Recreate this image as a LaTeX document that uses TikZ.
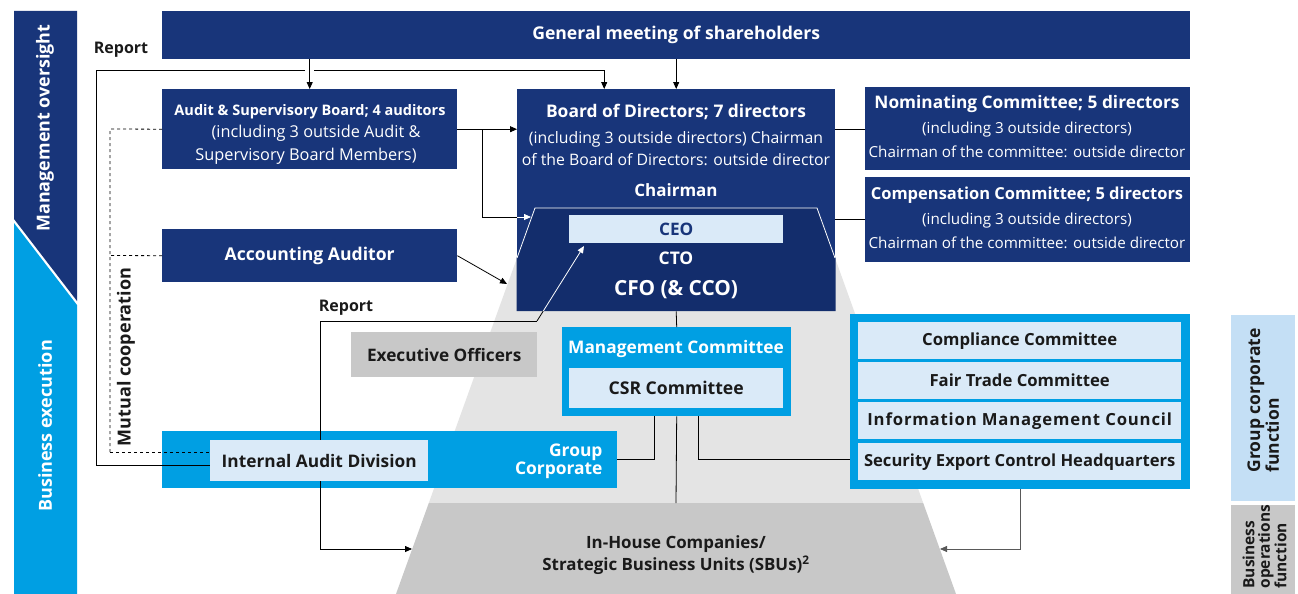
\documentclass[tikz,border=0pt]{standalone}
\usepackage{fontspec}
\setmainfont{Open Sans}
\usetikzlibrary{arrows.meta}
\definecolor{navy}{HTML}{18357A}
\definecolor{navyd}{HTML}{132D6C}
\definecolor{bblue}{HTML}{009FE3}
\definecolor{lblue}{HTML}{DAEAF8}
\definecolor{gblue}{HTML}{C4DFF5}
\definecolor{grayA}{HTML}{C8C8C8}
\definecolor{grayB}{HTML}{E4E4E4}
\definecolor{txtd}{HTML}{1A1A1A}
\newcommand{\bfsz}[1]{\fontsize{#1}{1.2\dimexpr #1pt\relax}\selectfont\bfseries}
\tikzset{
  navybox/.style={fill=navy, text=white, inner sep=0pt, align=center, anchor=north west},
  bluebox/.style={fill=bblue, text=white, inner sep=0pt, align=center, anchor=north west},
  lightbox/.style={fill=lblue, text=txtd, inner sep=0pt, align=center, anchor=north west, font=\bfsz{17.2}},
  graybox/.style={fill=grayA, text=txtd, inner sep=0pt, align=center, anchor=north west, font=\bfsz{17.2}},
  conn/.style={draw=black, line width=0.8pt},
  arr/.style={conn, -{Triangle[length=7pt,width=6pt]}},
  warr/.style={draw=white, line width=0.8pt, -{Triangle[length=7pt,width=6pt]}},
  dashln/.style={draw=black, line width=0.8pt, dash pattern=on 3pt off 3pt},
  lbl/.style={font=\bfsz{16}, text=txtd, inner sep=0pt},
}
\begin{document}
\begin{tikzpicture}[x=1pt,y=-1pt]
\useasboundingbox (0,0) rectangle (1298,594);
\fill[white] (0,0) rectangle (1298,594);

% left band
\fill[navy] (14,11) -- (77,11) -- (77,301) -- (14,219) -- cycle;
\fill[bblue] (14,223) -- (77,305) -- (77,594) -- (14,594) -- cycle;
\node[rotate=90, text=white, font=\bfsz{17.9}] (lbmo) at (45,128) {Management oversight};
\node[rotate=90, text=white, font=\bfsz{18}] (lbbe) at (45,426) {Business execution};

% gray trapezoid
\fill[grayB] (535,208) -- (817,208) -- (923.2,503) -- (428.8,503) -- cycle;
\fill[grayA] (428.8,503) -- (923.2,503) -- (956,594) -- (396,594) -- cycle;
\node[text=txtd, font=\fontsize{16.9}{22}\selectfont\bfseries, align=center] (ih) at (676,555) {In-House Companies/\\Strategic Business Units (SBUs)\textsuperscript{2}};
\coordinate (ihtop) at (676,503);
\coordinate (ihl) at (412,549);
\coordinate (ihr) at (940,549);

% general meeting
\node[navybox, minimum width=1028, minimum height=48, font=\bfsz{17.6}] (gm) at (162,11) {General meeting of shareholders};

% audit board / accounting auditor
\node[navybox, minimum width=295, minimum height=80] (asb) at (162,89) {};
\node[text=white, align=center, font=\fontsize{16.3}{22.5}\selectfont] (asbt) at (310,134)
  {{\bfseries\fontsize{14.5}{22.5}\selectfont Audit \& Supervisory Board; 4 auditors}\\
   \hspace*{12pt}(including 3 outside Audit \&\\
   Supervisory Board Members)\hspace*{8pt}};
\node[navybox, minimum width=295, minimum height=53, font=\bfsz{17.6}] (aa) at (162,229) {Accounting Auditor};

% board of directors
\node[navybox, minimum width=318, minimum height=222] (bod) at (517,89) {};
\fill[navyd] (535,208) -- (817,208) -- (835.5,258) -- (835.5,311) -- (516.5,311) -- (516.5,258) -- cycle;
\draw[white, line width=0.8pt] (517,258) -- (535,208) -- (817,208) -- (835,258);
\node[text=white, font=\bfsz{17.4}] (bodt) at (676,112) {Board of Directors; 7 directors};
\node[text=white, font=\fontsize{15.8}{22}\selectfont, align=center] (bodd) at (676,149) {(including 3 outside directors) Chairman\\of the Board of Directors: outside director};
\node[text=white, font=\bfsz{17}] (chair) at (676,190) {Chairman};
\node[lightbox, minimum width=214, minimum height=28, text=navy] (ceo) at (569,215) {CEO};
\node[text=white, font=\bfsz{17.4}] (cto) at (676,258) {CTO};
\node[text=white, font=\bfsz{20.8}] (cfo) at (676,290) {CFO (\& CCO)};

% committees
\node[navybox, minimum width=325, minimum height=83] (nom) at (865,87) {};
\node[text=white, align=center, font=\fontsize{15.2}{24.5}\selectfont] (nomt) at (1027,127)
  {{\bfseries\fontsize{17.3}{24.5}\selectfont Nominating Committee; 5 directors}\\
   (including 3 outside directors)\\
   Chairman of the committee: outside director};
\node[navybox, minimum width=325, minimum height=85] (comp) at (865,177) {};
\node[text=white, align=center, font=\fontsize{15.2}{24.5}\selectfont] (compt) at (1027,218)
  {{\bfseries\fontsize{16.5}{24.5}\selectfont Compensation Committee; 5 directors}\\
   (including 3 outside directors)\\
   Chairman of the committee: outside director};

% executive officers, management committee
\node[graybox, minimum width=186, minimum height=45] (eo) at (351,332) {Executive Officers};
\node[bluebox, minimum width=229, minimum height=89] (mc) at (562,327) {};
\node[text=white, font=\bfsz{17.3}] (mct) at (676,349) {Management Committee};
\node[lightbox, minimum width=214, minimum height=40, font=\bfsz{17.6}] (csr) at (569,368) {CSR Committee};

% group corporate bar
\node[bluebox, minimum width=455, minimum height=57] (gc) at (162,431) {};
\node[text=white, font=\fontsize{17.4}{18}\selectfont\bfseries, align=right, anchor=east] (gct) at (606,461) {Group\\Corporate};

% compliance group
\node[bluebox, minimum width=340, minimum height=175] (cg) at (850,314) {};
\node[lightbox, minimum width=323, minimum height=37, font=\bfsz{16.7}] (cc) at (858,322) {Compliance Committee};
\node[lightbox, minimum width=323, minimum height=37, font=\bfsz{16.7}] (ftc) at (858,362) {Fair Trade Committee};
\node[lightbox, minimum width=323, minimum height=37, font=\bfsz{16.7}\addfontfeature{LetterSpace=5}] (imc) at (858,402) {Information Management Council};
\node[lightbox, minimum width=323, minimum height=37, font=\bfsz{16.6}] (sec) at (858,443) {Security Export Control Headquarters};

% right side labels
\node[fill=gblue, minimum width=64, minimum height=186, anchor=north west, inner sep=0pt] (gcf) at (1231,315) {};
\node[rotate=90, text=txtd, font=\fontsize{17.5}{17}\selectfont\bfseries, align=left, anchor=north west] (gcft) at (1244,476) {Group corporate\\function};
\node[fill=grayA, minimum width=64, minimum height=95, anchor=north west, inner sep=0pt] (bof) at (1231,505) {};
\node[rotate=90, text=txtd, font=\fontsize{15.5}{15.5}\selectfont\bfseries, align=left, anchor=north west] (boft) at (1239,592) {Business\\operations\\function};

% ---------- connectors ----------
\coordinate (rtop) at (96,70);
\node[lbl] (rep1) at (121,50) {Report};
\draw[arr] (210,465) -- (96,465) -- (rtop) -| ([xshift=-72]bod.north);
\draw[arr, preaction={draw=white, line width=9pt, -}] (gm.south -| asb.north) -- (asb.north);
\draw[arr] (gm.south -| bod.north) -- (bod.north);

% ASB -> BoD
\draw[arr] (asb.east) -- (bod.west |- asb.east);
\coordinate (chin) at (517,217);
\draw[conn] (482,129) |- (chin);
\draw[warr] (chin) -- (531,217);
% AA -> BoD
\draw[arr] (aa.east) -- (507,284);

% BoD -> committees
\draw[conn] (bod.east |- 0,129) -- (nom.west |- 0,129);
\draw[conn] (835,219) -- (comp.west |- 0,219);

% mutual cooperation
\draw[dashln] (asb.west) -- (110,129) -- (110,452);
\draw[dashln] (aa.west) -- (110,255.5);
\node[lbl, rotate=90, font=\bfsz{18}] (mutc) at (126,357) {Mutual cooperation};

% report line CEO
\node[lbl] (rep2) at (346,308) {Report};
\coordinate (rj) at (537,321);
\draw[arr] (rj) -- (320,321) -- (320,549) -- (ihl);
\draw[conn] (rj) -- (543.3,311);
\draw[warr] (543.3,311) -- (584,246);

% management lines
\draw[conn] (bod.south) -- (mc.north);
\draw[conn] (mc.south) -- (ihtop);
\draw[conn] ([xshift=-22]mc.south) |- (gc.east);
\draw[conn] ([xshift=22]mc.south) |- (cg.west |- gc.east);
\draw[arr, draw=black!65] (cg.south) |- (ihr);

% dashed to internal audit (over the bar)
\draw[dashln] (110,452) -- (210,452);

% internal audit division
\node[lightbox, minimum width=218, minimum height=41, font=\bfsz{17.3}] (iad) at (210,440) {Internal Audit Division};
\end{tikzpicture}
\end{document}
